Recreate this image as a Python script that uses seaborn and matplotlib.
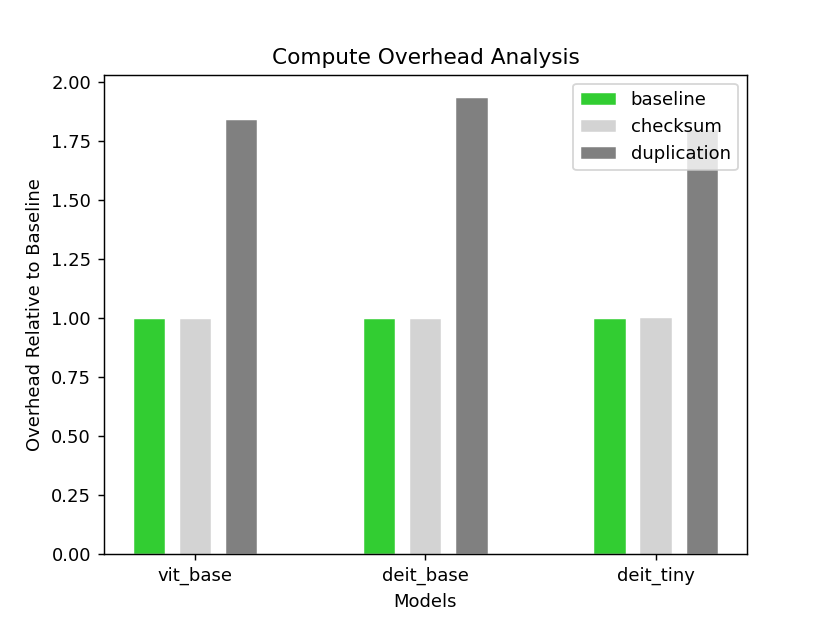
import matplotlib
matplotlib.use("Agg")
import matplotlib.pyplot as plt
import seaborn as sns
import pandas as pd

# Datos
modelos = ["vit_base", "deit_base", "deit_tiny"]
metodos = ["baseline", "checksum", "duplication"]
baseline = [1.0, 1.0, 1.0]
checksum = [1.0, 1.0, 1.007]
duplication = [1.842, 1.935, 1.80]

colores = ["limegreen", "lightgray", "gray"]

df = pd.DataFrame({
    "modelo": modelos * 3,
    "metodo": [m for m in metodos for _ in modelos],
    "overhead": baseline + checksum + duplication,
})

fig, ax = plt.subplots(figsize=(830 / 130, 623 / 130), dpi=130)

sns.barplot(
    data=df,
    x="modelo",
    y="overhead",
    hue="metodo",
    hue_order=metodos,
    palette=colores,
    saturation=1,
    width=0.6,
    gap=0.3,
    edgecolor="white",
    linewidth=0.8,
    errorbar=None,
    ax=ax,
)

ax.set_xlim(-0.397, 2.397)
ax.set_ylim(0, 2.03)
ax.set_title("Compute Overhead Analysis")
ax.set_xlabel("Models")
ax.set_ylabel("Overhead Relative to Baseline")
ax.legend(loc="upper right")

fig.savefig("out.png", dpi=130)
